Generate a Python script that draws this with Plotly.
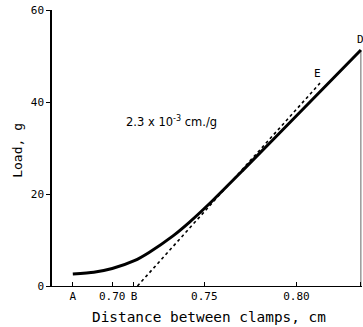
import plotly.graph_objects as go

# Data
curve_x = [0.6786, 0.690, 0.700, 0.712, 0.720, 0.733, 0.742, 0.752, 0.771, 0.787, 0.835]
curve_y = [2.6, 3.0, 3.8, 5.5, 7.3, 10.9, 13.9, 17.6, 25.2, 31.7, 51.3]

tangent_x = [0.7137, 0.8128]
tangent_y = [0.0, 44.1]

unload_x = [0.835, 0.835]
unload_y = [51.3, 0.0]

x_tickvals = [0.6786, 0.70, 0.7118, 0.75, 0.80, 0.835]
x_ticktext = ["A", "0.70", "B", "0.75", "0.80", "C"]
y_tickvals = [0, 20, 40, 60]

point_labels = ["D", "E"]
point_x = [0.835, 0.8117]
point_y = [53.6, 46.3]

MONO = "DejaVu Sans Mono"

fig = go.Figure()
fig.add_trace(go.Scatter(x=unload_x, y=unload_y, mode="lines",
                         line=dict(color="#666666", width=1), hoverinfo="skip"))
fig.add_trace(go.Scatter(x=tangent_x, y=tangent_y, mode="lines",
                         line=dict(color="black", width=1.6, dash="dot"), hoverinfo="skip"))
fig.add_trace(go.Scatter(x=curve_x, y=curve_y, mode="lines",
                         line=dict(color="black", width=3, shape="spline", smoothing=0.6),
                         hoverinfo="skip"))

for t, x, y in zip(point_labels, point_x, point_y):
    fig.add_annotation(x=x, y=y, text=t, showarrow=False, xanchor="center", yanchor="middle",
                       font=dict(family=MONO, size=11, color="black"))

fig.add_annotation(x=0.384, y=0.596, xref="paper", yref="paper",
                   text="2.3 x 10<sup>-3</sup> cm./g", showarrow=False,
                   xanchor="center", yanchor="middle",
                   font=dict(family="DejaVu Sans", size=11.5, color="black"))

# axis titles
fig.add_annotation(x=0.507, y=-0.112, xref="paper", yref="paper",
                   text="Distance between clamps, cm", showarrow=False,
                   xanchor="center", yanchor="middle",
                   font=dict(family=MONO, size=14.4, color="black"))
fig.add_annotation(x=-0.11, y=0.493, xref="paper", yref="paper",
                   text="Load, g", showarrow=False, textangle=-90,
                   xanchor="center", yanchor="middle",
                   font=dict(family=MONO, size=13, color="black"))

fig.update_layout(
    width=363, height=327,
    margin=dict(l=52, r=1, t=10, b=41, autoexpand=False),
    paper_bgcolor="white", plot_bgcolor="white",
    showlegend=False,
    xaxis=dict(range=[0.6673, 0.8356], showgrid=False, zeroline=False, automargin=False,
               showline=True, linecolor="black", linewidth=1,
               ticks="inside", ticklen=4, tickcolor="black",
               tickvals=x_tickvals, ticktext=x_ticktext,
               tickfont=dict(family=MONO, size=11, color="black")),
    yaxis=dict(range=[0, 60], showgrid=False, zeroline=False, automargin=False,
               showline=True, linecolor="black", linewidth=1.5,
               ticks="outside", ticklen=4, tickcolor="black",
               tickvals=y_tickvals,
               tickfont=dict(family=MONO, size=11, color="black")),
)

fig.write_html("out.html", config={"displayModeBar": False},
               post_script="document.body.style.margin='0';document.body.style.overflow='hidden';")
